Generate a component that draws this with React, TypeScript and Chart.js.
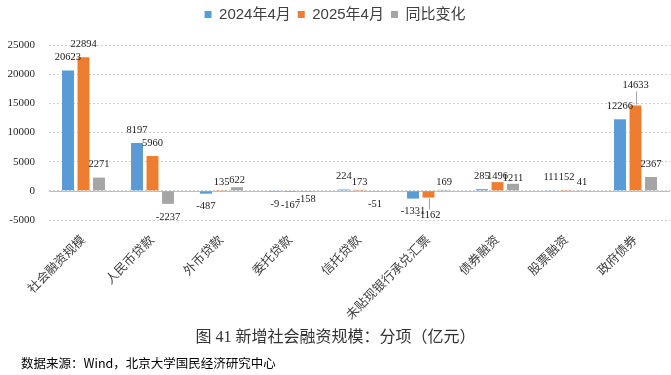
import React, { useEffect, useRef } from "react";
import { Chart, registerables } from "chart.js";

Chart.register(...registerables);

const categories = ["社会融资规模", "人民币贷款", "外币贷款", "委托贷款", "信托贷款", "未贴现银行承兑汇票", "债券融资", "股票融资", "政府债券"];
const seriesNames = ["2024年4月", "2025年4月", "同比变化"];
const apr2024 = [20623, 8197, -487, -9, 224, -1331, 285, 111, 12266];
const apr2025 = [22894, 5960, 135, -167, 173, -1162, 1496, 152, 14633];
const yoyChange = [2271, -2237, 622, -158, -51, 169, 1211, 41, 2367];
const colors = ["#5B9BD5", "#ED7D31", "#A5A5A5"];
const yMin = -5000;
const yMax = 25000;
const yStep = 5000;

// label nudges (px, positive = toward bar), keyed "dataset-index"
const labelNudge: Record<string, number> = {
  "1-2": 5, "2-2": 6, "2-3": 6, "1-4": 5, "2-5": 5, "1-5": -5,
  "1-6": 7, "2-6": 7, "2-7": 5, "1-8": -7,
};

const SERIF = '"Liberation Serif", "Noto Sans CJK SC", serif';
const SANS = '"Liberation Sans", "Noto Sans CJK SC", sans-serif';

const legendHeightPlugin = {
  id: "legendHeight",
  beforeLayout(chart: any) {
    const lg = chart.legend;
    if (lg && !lg._patched) {
      const orig = lg.fit;
      lg.fit = function () {
        orig.call(this);
        this.height = 45;
      };
      lg._patched = true;
    }
  },
};

const zeroLinePlugin = {
  id: "zeroLine",
  beforeDatasetsDraw(chart: any) {
    const { ctx, chartArea, scales } = chart;
    const y = Math.round(scales.y.getPixelForValue(0)) + 0.5;
    ctx.save();
    ctx.strokeStyle = "#bfbfbf";
    ctx.lineWidth = 1;
    ctx.beginPath();
    ctx.moveTo(chartArea.left, y);
    ctx.lineTo(chartArea.right, y);
    ctx.stroke();
    ctx.restore();
  },
};

const dataLabelPlugin = {
  id: "dataLabels",
  afterDatasetsDraw(chart: any) {
    const { ctx } = chart;
    ctx.save();
    ctx.font = '10.5px ' + SERIF;
    ctx.fillStyle = "#1a1a1a";
    ctx.textAlign = "center";
    ctx.textBaseline = "middle";
    chart.data.datasets.forEach((ds: any, di: number) => {
      const meta = chart.getDatasetMeta(di);
      meta.data.forEach((el: any, i: number) => {
        const v = ds.data[i];
        const nudge = labelNudge[di + "-" + i] || 0;
        const gap = 13 - nudge;
        const dir = v >= 0 ? -1 : 1;
        const cy = el.y + dir * gap;
        if (nudge < 0) {
          ctx.save();
          ctx.strokeStyle = "#a5a5a5";
          ctx.lineWidth = 1;
          ctx.beginPath();
          ctx.moveTo(Math.round(el.x) + 0.5, el.y + dir * 1);
          ctx.lineTo(Math.round(el.x) + 0.5, cy - dir * 6);
          ctx.stroke();
          ctx.restore();
        }
        ctx.fillText(String(v), el.x, cy);
      });
    });
    ctx.restore();
  },
};

export default function App() {
  const ref = useRef<HTMLCanvasElement>(null);
  useEffect(() => {
    if (!ref.current) return;
    const series = [apr2024, apr2025, yoyChange];
    const chart = new Chart(ref.current, {
      type: "bar",
      data: {
        labels: categories,
        datasets: series.map((d, k) => ({
          label: seriesNames[k],
          data: d,
          backgroundColor: colors[k],
          borderWidth: 0,
          categoryPercentage: 0.674,
          barPercentage: 0.77,
        })),
      },
      options: {
        animation: false,
        responsive: false,
        devicePixelRatio: 1,
        layout: { padding: { left: 0, right: 1, top: 0, bottom: 0 } },
        plugins: {
          legend: {
            position: "top",
            labels: {
              boxWidth: 7,
              boxHeight: 7,
              padding: 7,
              color: "#404040",
              font: { size: 15, family: SANS },
            },
          },
          tooltip: { enabled: false },
          title: { display: false },
        },
        scales: {
          x: {
            grid: { display: false },
            border: { display: false },
            ticks: {
              autoSkip: false,
              maxRotation: 45,
              minRotation: 45,
              color: "#404040",
              font: { size: 12.5, family: SERIF },
              padding: 5,
            },
            afterFit(scale: any) {
              scale.height = 155;
            },
          },
          y: {
            min: yMin,
            max: yMax,
            ticks: {
              stepSize: yStep,
              color: "#262626",
              font: { size: 11, family: SERIF },
              padding: 14,
              callback: (v: any) => String(v),
            },
            grid: { color: "#d0d0d0", drawTicks: false, lineWidth: 1 },
            border: { display: false, dash: [2, 2] },
            afterFit(scale: any) {
              scale.width = 49;
            },
          },
        },
      },
      plugins: [legendHeightPlugin, zeroLinePlugin, dataLabelPlugin],
    } as any);
    return () => chart.destroy();
  }, []);

  return (
    <div style={{ position: "absolute", left: 0, top: 0, width: 671, height: 375, background: "#fff", overflow: "hidden" }}>
      <canvas ref={ref} width={671} height={375} style={{ position: "absolute", left: 0, top: 0, width: 671, height: 375 }} />
      <div style={{ position: "absolute", left: 0, width: 671, top: 326, textAlign: "center", fontFamily: SERIF, fontSize: 16, color: "#333", lineHeight: "22px" }}>
        图 41 新增社会融资规模：分项（亿元）
      </div>
      <div style={{ position: "absolute", left: 21, top: 354, fontFamily: '"Noto Sans CJK SC", sans-serif', fontSize: 12.5, color: "#000", lineHeight: "18px" }}>
        数据来源：Wind，北京大学国民经济研究中心
      </div>
    </div>
  );
}
